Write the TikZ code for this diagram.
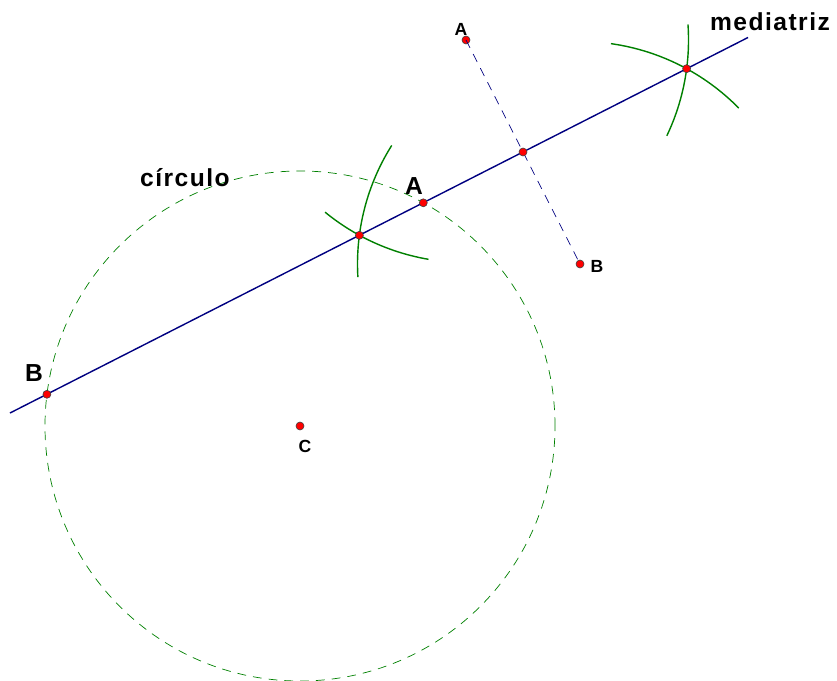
\documentclass[tikz,border=0pt]{standalone}
\usepackage{fontspec}
\setmainfont{Liberation Sans}
\newfontfamily\bigfont[LetterSpace=6]{Liberation Sans}
\usepackage{tikz}
\usetikzlibrary{calc}

\begin{document}
\begin{tikzpicture}[x=0.03cm, y=0.03cm,
  pt/.style={circle, fill=red, draw=black!75, line width=0.5pt, inner sep=0pt, minimum size=0.24cm},
  biglabel/.style={font=\bigfont\bfseries\fontsize{21}{24}\selectfont},
  smalllabel/.style={font=\bfseries\fontsize{15}{17}\selectfont},
  arcline/.style={green!50!black, line width=1.2pt},
  guide/.style={dash pattern=on 7.5pt off 6pt, line width=0.6pt}]

% Canvas (pixel grid, y downwards)
\useasboundingbox (0,0) rectangle (837,-681);

% Segment endpoints and centre of circle
\node[pt] (A) at (466,-40) {};
\node[pt] (B) at (580,-264) {};
\node[pt] (C) at (300,-426) {};
\node[smalllabel] (Alab) at (461,-29) {A};
\node[smalllabel] (Blab) at (597,-266) {B};
\node[smalllabel] (Clab) at (305,-446) {C};

% Circle
\draw[guide, green!50!black] (C.center) circle[radius=7.65cm];
\node[biglabel] (circlab) at (185,-178) {círculo};

% Dashed segment AB
\draw[guide, blue!50!black] (A.center) -- (B.center);

% Compass arcs (radius 222.5 px) around A and around B
\draw[arcline] (B.center) ++(82:6.675cm) arc[start angle=82, end angle=44.5, radius=6.675cm];
\draw[arcline] (A.center) ++(4:6.675cm) arc[start angle=4, end angle=-25.5, radius=6.675cm];
\draw[arcline] (B.center) ++(147.8:6.675cm) arc[start angle=147.8, end angle=183.4, radius=6.675cm];
\draw[arcline] (A.center) ++(230.7:6.675cm) arc[start angle=230.7, end angle=260.3, radius=6.675cm];

% Perpendicular bisector
\coordinate (m0) at (10,-413);
\coordinate (m1) at (748,-37.5);
\draw[blue!50!black, line width=1.2pt] (m0) -- (m1);
\node[biglabel] (medlab) at (770,-22) {mediatriz};

% Points on the bisector
\node[pt] (M) at (523,-152) {};
\node[pt] (P) at (686.6,-68.7) {};
\node[pt] (Q) at (359.4,-235.3) {};
\node[pt] (A2) at (423.3,-202.8) {};
\node[pt] (B2) at (46.9,-394.3) {};
\node[biglabel] (A2lab) at (414,-186) {A};
\node[biglabel] (B2lab) at (34,-373) {B};

\end{tikzpicture}
\end{document}
